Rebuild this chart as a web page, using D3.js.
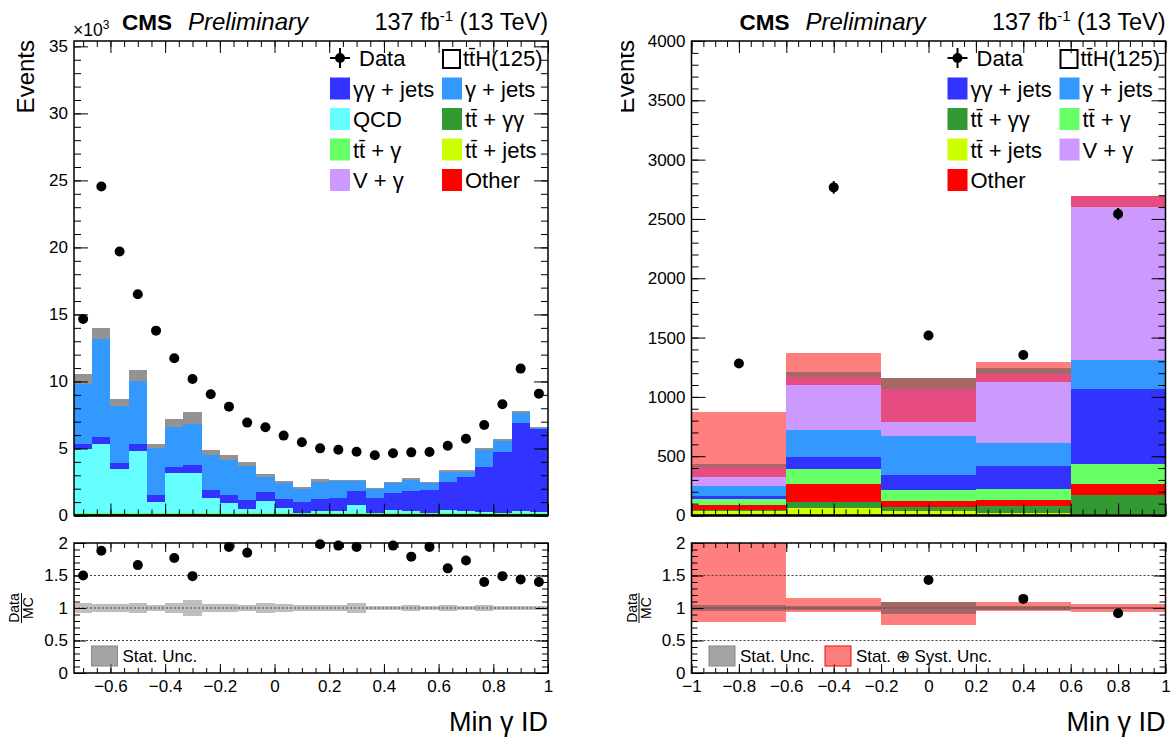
<!DOCTYPE html>
<html>
<head>
<meta charset="utf-8">
<title>Min photon ID</title>
<script src="https://cdn.jsdelivr.net/npm/d3@7"></script>
<style>
  body { margin: 0; background: #fff; }
  svg text { font-family: "Liberation Sans", Arial, Helvetica, sans-serif; fill: #000; }
</style>
</head>
<body>
<div id="chart"></div>
<script>
// ---------------- left panel: 26 bins of 1/15 from -11/15 to 1, in thousands of events
var leftEdges = d3.range(-11, 16).map(k => k / 15);
var leftData = [14.66, 24.54, 19.7, 16.5, 13.79, 11.73, 10.19, 9.04, 8.12, 6.93, 6.58, 5.96, 5.46,
                5.01, 4.91, 4.76, 4.49, 4.64, 4.71, 4.74, 5.21, 5.73, 6.75, 8.3, 10.96, 9.09];
var leftTTJets = [0.07, 0.07, 0.06, 0.07, 0.06, 0.06, 0.06, 0.07, 0.07, 0.07, 0.07, 0.07, 0.07,
                  0.07, 0.07, 0.07, 0.07, 0.07, 0.07, 0.07, 0.07, 0.07, 0.07, 0.07, 0.07, 0.07];
var leftTTGG = [0.01, 0.01, 0.01, 0.01, 0.01, 0.01, 0.01, 0.01, 0.01, 0.01, 0.01, 0.01, 0.01,
                0.01, 0.01, 0.01, 0.01, 0.01, 0.01, 0.01, 0.01, 0.01, 0.01, 0.01, 0.02, 0.02];
var leftOther = [0.03, 0.03, 0.04, 0.03, 0.03, 0.03, 0.03, 0.03, 0.03, 0.03, 0.03, 0.03, 0.03,
                 0.03, 0.03, 0.03, 0.03, 0.03, 0.03, 0.03, 0.03, 0.03, 0.03, 0.03, 0.02, 0.02];
var leftVG = [0.02, 0.02, 0.02, 0.02, 0.02, 0.02, 0.02, 0.02, 0.02, 0.02, 0.02, 0.02, 0.02,
              0.02, 0.02, 0.02, 0.02, 0.02, 0.02, 0.02, 0.02, 0.02, 0.02, 0.03, 0.03, 0.03];
var leftTTG = [0.07, 0.07, 0.07, 0.07, 0.08, 0.08, 0.08, 0.07, 0.07, 0.07, 0.07, 0.07, 0.07,
               0.07, 0.07, 0.07, 0.07, 0.07, 0.07, 0.07, 0.07, 0.07, 0.07, 0.06, 0.06, 0.06];
var leftQCD = [4.76, 5.14, 3.25, 4.61, 0.83, 2.95, 2.99, 1.13, 0.71, 0.31, 0.88, 0.38, 0.00,
               0.10, 0.16, 0.58, 0.01, 0.21, 0.16, 0.00, 0.20, 0.10, 0.05, 0.00, 0.15, 0.05];
var leftGG = [0.38, 0.54, 0.49, 0.50, 0.50, 0.49, 0.58, 0.57, 0.62, 0.65, 0.67, 0.65, 0.80,
              0.91, 0.92, 1.07, 1.12, 1.29, 1.49, 1.70, 2.12, 2.60, 3.39, 4.56, 6.53, 6.22];
var leftGJets = [4.47, 7.27, 4.23, 4.73, 3.48, 2.99, 3.06, 2.59, 2.61, 2.56, 1.10, 1.17, 1.00,
                 1.31, 1.27, 0.70, 0.65, 0.70, 0.78, 0.53, 0.70, 0.37, 1.22, 0.81, 0.75, 0.03];
// top edge of the MC stat. band (thousands)
var leftStatHi = [10.56, 13.97, 8.69, 10.86, 5.34, 7.2, 7.7, 4.89, 4.49, 3.99, 3.12, 2.57, 2.15,
                  2.7, 2.65, 2.62, 2.07, 2.48, 2.78, 2.52, 3.37, 3.4, 5.06, 5.73, 7.8, 6.6];
// Data/MC (values above 2 fall off the pad)
var leftRatio = [1.5, 1.88, 2.33, 1.66, 2.67, 1.77, 1.49, 2.05, 1.94, 1.85, 2.2, 2.4, 2.64,
                 1.98, 1.96, 1.94, 2.24, 1.96, 1.79, 1.94, 1.61, 1.73, 1.4, 1.49, 1.44, 1.4];
var leftRatioStat = [0.075, 0.06, 0.06, 0.08, 0.05, 0.08, 0.12, 0.06, 0.06, 0.05, 0.08, 0.06, 0.04,
                     0.05, 0.05, 0.08, 0.03, 0.03, 0.04, 0.03, 0.04, 0.025, 0.04, 0.025, 0.025, 0.025];

// ---------------- right panel: 5 bins, events
var rightEdges = [-1, -0.6, -0.2, 0.2, 0.6, 1];
var rightData = [1281, 2766, 1518, 1353, 2542];
var rightDataErr = [36, 53, 39, 37, 50];
var rightTTJets = [40, 66, 40, 24, 10];
var rightTTGG = [6, 45, 34, 56, 163];
var rightOther = [45, 152, 48, 51, 93];
var rightTTG = [51, 129, 93, 90, 168];
var rightGG = [22, 101, 126, 196, 633];
var rightGJets = [85, 228, 329, 192, 244];
var rightVG = [162, 449, 396, 584, 1386];
var rightSystLo = [327, 1100, 791, 1123, 2604];
var rightSystHi = [875, 1368, 1162, 1297, 2697];
var rightStatLo = [411, 1170, 1066, 1193, 2690];
var rightStatHi = [432, 1207, 1162, 1241, 2697];
var rightRatio = [3.05, 2.33, 1.43, 1.14, 0.92];
var rightRatioSystLo = [0.78, 0.94, 0.74, 0.95, 0.94];
var rightRatioSystHi = [2.08, 1.16, 1.09, 1.10, 1.06];
var rightRatioStatLo = [0.96, 0.97, 0.91, 0.97, 0.98];
var rightRatioStatHi = [1.04, 1.03, 1.09, 1.03, 1.02];

// ---------------- ticks
var leftXLabels = [-0.6, -0.4, -0.2, 0, 0.2, 0.4, 0.6, 0.8, 1];
var leftXMinor = d3.range(-0.7, 1.001, 0.05);
var leftYLabels = [0, 5, 10, 15, 20, 25, 30, 35];
var leftYMinor = d3.range(0, 36, 1);
var rightXLabels = [-1, -0.8, -0.6, -0.4, -0.2, 0, 0.2, 0.4, 0.6, 0.8, 1];
var rightXMinor = d3.range(-1, 1.001, 0.05);
var rightYLabels = [0, 500, 1000, 1500, 2000, 2500, 3000, 3500, 4000];
var rightYMinor = d3.range(0, 4001, 100);
var ratioYLabels = [0, 0.5, 1, 1.5, 2];
var ratioYMinor = d3.range(0, 2.001, 0.1);
var ratioGrid = [0.5, 1, 1.5];

var colors = {
    ttjets: "#ccff00", ttgg: "#339933", other: "#ff0000", vg: "#cc99ff",
    ttg: "#66ff66", qcd: "#66ffff", gg: "#3333ff", gjets: "#3399ff"
};
var labels = {
    ttjets: "tt\u0304 + jets", ttgg: "tt\u0304 + γγ", other: "Other", vg: "V + γ",
    ttg: "tt\u0304 + γ", qcd: "QCD", gg: "γγ + jets", gjets: "γ + jets"
};
// band fills (the hatch of the original blended down to a flat tone)
var bandFill = {
    statMain: "rgba(40,40,40,0.5)",
    statRatio: "rgba(110,110,110,0.45)",
    syst: "rgba(255,0,0,0.5)",
    statOnSyst: "rgba(80,80,80,0.5)"
};

var svgWidth = 1174;
var svgHeight = 740;
var mainTop = 41, mainBottom = 515.5;
var ratioTop = 543, ratioBottom = 673;

var svg = d3.select("#chart")
    .append("svg")
    .attr("width", svgWidth)
    .attr("height", svgHeight);

var defs = svg.append("defs");
defs.append("clipPath").attr("id", "rightPad")
    .append("rect").attr("x", 621).attr("y", 0).attr("width", 560).attr("height", svgHeight);

// draws inside-pointing ticks on all four sides of a frame
function frameAxes(g, x, y, top, bottom, xMaj, xMin, yMaj, yMin, xLen, yLen, xText, yFmt) {
    var fmt = d3.format("~g");
    var sides = [
        [d3.axisBottom, x, `translate(0,${bottom})`, xMaj, xMin, xLen, xText ? fmt : ""],
        [d3.axisTop, x, `translate(0,${top})`, xMaj, xMin, xLen, ""],
        [d3.axisLeft, y, `translate(${x.range()[0]},0)`, yMaj, yMin, yLen, yFmt],
        [d3.axisRight, y, `translate(${x.range()[1]},0)`, yMaj, yMin, yLen, ""]
    ];
    sides.forEach(function(s, k) {
        var ga = g.append("g").attr("transform", s[2]);
        ga.call(s[0](s[1]).tickValues(s[3]).tickSize(-s[5][0]).tickPadding(k < 2 ? 7 : 6).tickFormat(s[6]));
        ga.select(".domain").remove();
        ga.attr("font-size", 17).attr("font-family", null);
        ga.selectAll("line").attr("stroke", "#000").attr("stroke-width", 1);

        var gm = g.append("g").attr("transform", s[2]);
        gm.call(s[0](s[1]).tickValues(s[4]).tickSize(-s[5][1]).tickFormat(""));
        gm.select(".domain").remove();
        gm.selectAll("line").attr("stroke", "#000").attr("stroke-width", 1);
    });
}

function drawPanel(p) {
    var g = svg.append("g");
    if (p.clip) g.attr("clip-path", "url(#" + p.clip + ")");

    var x = d3.scaleLinear().domain([p.edges[0], p.edges[p.edges.length - 1]]).range([p.x0, p.x1]);
    var y = d3.scaleLinear().domain([0, p.yMax]).range([mainBottom, mainTop]);
    var yr = d3.scaleLinear().domain([0, 2]).range([ratioBottom, ratioTop]);
    var centers = p.edges.slice(0, -1).map((e, i) => (e + p.edges[i + 1]) / 2);

    // Step 1: stacked backgrounds
    var rows = centers.map(function(c, i) {
        var r = {};
        p.keys.forEach(k => r[k] = p.stack[k][i]);
        return r;
    });
    var series = d3.stack().keys(p.keys)(rows);
    g.selectAll(null)
        .data(series)
        .enter()
        .append("g")
        .attr("fill", s => colors[s.key])
        .selectAll("rect")
        .data(s => s)
        .enter()
        .append("rect")
        .attr("shape-rendering", "crispEdges")
        .attr("x", (d, i) => x(p.edges[i]))
        .attr("width", (d, i) => x(p.edges[i + 1]) - x(p.edges[i]))
        .attr("y", d => y(d[1]))
        .attr("height", d => y(d[0]) - y(d[1]));
    var totals = rows.map(r => d3.sum(p.keys, k => r[k]));

    // Step 2: uncertainty bands
    function band(lo, hi, fill, sc) {
        var top = sc.domain()[1];
        g.append("g").selectAll("rect")
            .data(centers)
            .enter()
            .append("rect")
            .attr("shape-rendering", "crispEdges")
            .attr("x", (d, i) => x(p.edges[i]))
            .attr("width", (d, i) => x(p.edges[i + 1]) - x(p.edges[i]))
            .attr("y", (d, i) => sc(Math.min(hi[i], top)))
            .attr("height", (d, i) => sc(lo[i]) - sc(Math.min(hi[i], top)))
            .attr("fill", fill);
    }
    if (p.systLo) band(p.systLo, p.systHi, bandFill.syst, y);
    band(p.statLo || totals, p.statHi, p.systLo ? bandFill.statOnSyst : bandFill.statMain, y);

    // Step 3: data points
    var pts = g.append("g");
    if (p.dataErr) {
        pts.selectAll("line")
            .data(p.data)
            .enter()
            .append("line")
            .attr("x1", (d, i) => x(centers[i])).attr("x2", (d, i) => x(centers[i]))
            .attr("y1", (d, i) => y(d - p.dataErr[i])).attr("y2", (d, i) => y(d + p.dataErr[i]))
            .attr("stroke", "#000").attr("stroke-width", 2);
    }
    pts.selectAll("circle")
        .data(p.data)
        .enter()
        .append("circle")
        .attr("cx", (d, i) => x(centers[i]))
        .attr("cy", d => y(d))
        .attr("r", 5)
        .attr("fill", "#000");

    // Step 4: main frame and ticks
    frameAxes(g, x, y, mainTop, mainBottom, p.xLabels, p.xMinor, p.yLabels, p.yMinor,
        [12, 6], [14, 7], false, d3.format("d"));
    g.append("rect")
        .attr("x", p.x0).attr("y", mainTop)
        .attr("width", p.x1 - p.x0).attr("height", mainBottom - mainTop)
        .attr("fill", "none").attr("stroke", "#000").attr("stroke-width", 1.5);
    g.append("line")
        .attr("x1", p.x0).attr("x2", p.x1).attr("y1", mainBottom).attr("y2", mainBottom)
        .attr("stroke", "#000").attr("stroke-width", 2.5);

    // Step 5: ratio pad
    if (p.ratioSystLo) band(p.ratioSystLo, p.ratioSystHi, bandFill.syst, yr);
    band(p.ratioStatLo, p.ratioStatHi, p.ratioSystLo ? bandFill.statOnSyst : bandFill.statRatio, yr);
    g.append("g").selectAll("line")
        .data(ratioGrid)
        .enter()
        .append("line")
        .attr("x1", p.x0).attr("x2", p.x1)
        .attr("y1", d => yr(d)).attr("y2", d => yr(d))
        .attr("stroke", "#444").attr("stroke-width", 1).attr("stroke-dasharray", "2,2");
    g.append("g").selectAll("circle")
        .data(p.ratio.map((v, i) => [centers[i], v]).filter(d => d[1] <= 2))
        .enter()
        .append("circle")
        .attr("cx", d => x(d[0]))
        .attr("cy", d => yr(d[1]))
        .attr("r", 5)
        .attr("fill", "#000");
    frameAxes(g, x, yr, ratioTop, ratioBottom, p.xLabels, p.xMinor, ratioYLabels, ratioYMinor,
        [9, 5], [12, 6], true, d3.format("~g"));
    g.append("rect")
        .attr("x", p.x0).attr("y", ratioTop)
        .attr("width", p.x1 - p.x0).attr("height", ratioBottom - ratioTop)
        .attr("fill", "none").attr("stroke", "#000").attr("stroke-width", 1.5);

    // Step 6: texts
    g.append("text").attr("x", p.x0 + 48).attr("y", 30)
        .attr("font-size", 22.5).attr("font-weight", "bold").text("CMS");
    g.append("text").attr("x", p.x0 + 114).attr("y", 30)
        .attr("font-size", 24).attr("font-style", "italic").text("Preliminary");
    var lumi = g.append("text").attr("x", p.x1).attr("y", 30)
        .attr("text-anchor", "end").attr("font-size", 23.5);
    lumi.append("tspan").text("137 fb");
    lumi.append("tspan").attr("dy", -9).attr("font-size", 15).text("-1");
    lumi.append("tspan").attr("dy", 9).text(" (13 TeV)");

    g.append("text")
        .attr("transform", `translate(${p.eventsX},${mainTop - 1}) rotate(-90)`)
        .attr("text-anchor", "end").attr("font-size", 24).text("Events");

    var frac = g.append("g")
        .attr("transform", `translate(${p.x0 - 53},${(ratioTop + ratioBottom) / 2}) rotate(-90)`);
    frac.append("text").attr("y", -2).attr("text-anchor", "middle").attr("font-size", 14).text("Data");
    frac.append("line").attr("x1", -15).attr("x2", 15).attr("y1", 0.5).attr("y2", 0.5)
        .attr("stroke", "#000").attr("stroke-width", 1);
    frac.append("text").attr("y", 12).attr("text-anchor", "middle").attr("font-size", 14).text("MC");

    g.append("text").attr("x", p.x1).attr("y", 731)
        .attr("text-anchor", "end").attr("font-size", 27).text("Min γ ID");

    // Step 7: legend
    var col = [p.x1 - 218, p.x1 - 106];
    var rowY = [58, 88.5, 119, 149.5, 180];
    var leg = g.append("g");
    leg.append("line").attr("x1", col[0]).attr("x2", col[0] + 20).attr("y1", rowY[0]).attr("y2", rowY[0])
        .attr("stroke", "#000").attr("stroke-width", 2);
    leg.append("line").attr("x1", col[0] + 10).attr("x2", col[0] + 10).attr("y1", rowY[0] - 10).attr("y2", rowY[0] + 10)
        .attr("stroke", "#000").attr("stroke-width", 2);
    leg.append("circle").attr("cx", col[0] + 10).attr("cy", rowY[0]).attr("r", 5).attr("fill", "#000");
    leg.append("text").attr("x", col[0] + 29).attr("y", rowY[0] + 8).attr("font-size", 22).text("Data");
    leg.append("rect").attr("x", col[1] + 1).attr("y", rowY[0] - 8).attr("width", 17).attr("height", 18)
        .attr("fill", "none").attr("stroke", "#000").attr("stroke-width", 2);
    leg.append("text").attr("x", col[1] + 21).attr("y", rowY[0] + 8).attr("font-size", 22).text("tt\u0304H(125)");

    var items = leg.selectAll(null)
        .data(p.legend)
        .enter()
        .append("g")
        .attr("transform", (d, i) => `translate(${col[i % 2]},${rowY[1 + Math.floor(i / 2)]})`);
    items.append("rect").attr("x", 0).attr("y", -11).attr("width", 20).attr("height", 22)
        .attr("fill", d => colors[d]);
    items.append("text").attr("x", 23).attr("y", 8).attr("font-size", 22).text(d => labels[d]);

    // ratio legend
    var rl = g.append("g").attr("transform", `translate(${p.x0 + 17.5},656)`);
    rl.append("rect").attr("x", 0).attr("y", -10).attr("width", 26).attr("height", 20)
        .attr("fill", "rgba(90,90,90,0.55)").attr("stroke", "#888").attr("stroke-width", 1);
    rl.append("text").attr("x", 31).attr("y", 6).attr("font-size", 17).text("Stat. Unc.");
    if (p.ratioSystLo) {
        rl.append("rect").attr("x", 116).attr("y", -10).attr("width", 26).attr("height", 20)
            .attr("fill", bandFill.syst).attr("stroke", "#ff0000").attr("stroke-width", 1);
        rl.append("text").attr("x", 147).attr("y", 6).attr("font-size", 17).text("Stat. ⊕ Syst. Unc.");
    }
}

// left panel, with the x10^3 multiplier
drawPanel({
    x0: 74, x1: 548, edges: leftEdges, yMax: 35.4, eventsX: 34,
    keys: ["ttjets", "ttgg", "other", "vg", "ttg", "qcd", "gg", "gjets"],
    stack: {ttjets: leftTTJets, ttgg: leftTTGG, other: leftOther, vg: leftVG, ttg: leftTTG,
            qcd: leftQCD, gg: leftGG, gjets: leftGJets},
    data: leftData, statHi: leftStatHi,
    ratio: leftRatio,
    ratioStatLo: leftRatioStat.map(d => 1 - d), ratioStatHi: leftRatioStat.map(d => 1 + d),
    xLabels: leftXLabels, xMinor: leftXMinor, yLabels: leftYLabels, yMinor: leftYMinor,
    legend: ["gg", "gjets", "qcd", "ttgg", "ttg", "ttjets", "vg", "other"]
});
var mult = svg.append("text").attr("x", 73).attr("y", 36).attr("font-size", 17.5);
mult.append("tspan").text("×10");
mult.append("tspan").attr("dy", -7).attr("font-size", 12).text("3");

drawPanel({
    x0: 691.5, x1: 1165.5, edges: rightEdges, yMax: 4000, clip: "rightPad", eventsX: 634,
    keys: ["ttjets", "ttgg", "other", "ttg", "gg", "gjets", "vg"],
    stack: {ttjets: rightTTJets, ttgg: rightTTGG, other: rightOther, ttg: rightTTG,
            gg: rightGG, gjets: rightGJets, vg: rightVG},
    data: rightData, dataErr: rightDataErr,
    systLo: rightSystLo, systHi: rightSystHi, statLo: rightStatLo, statHi: rightStatHi,
    ratio: rightRatio,
    ratioSystLo: rightRatioSystLo, ratioSystHi: rightRatioSystHi,
    ratioStatLo: rightRatioStatLo, ratioStatHi: rightRatioStatHi,
    xLabels: rightXLabels, xMinor: rightXMinor, yLabels: rightYLabels, yMinor: rightYMinor,
    legend: ["gg", "gjets", "ttgg", "ttg", "ttjets", "vg", "other"]
});
</script>
</body>
</html>
